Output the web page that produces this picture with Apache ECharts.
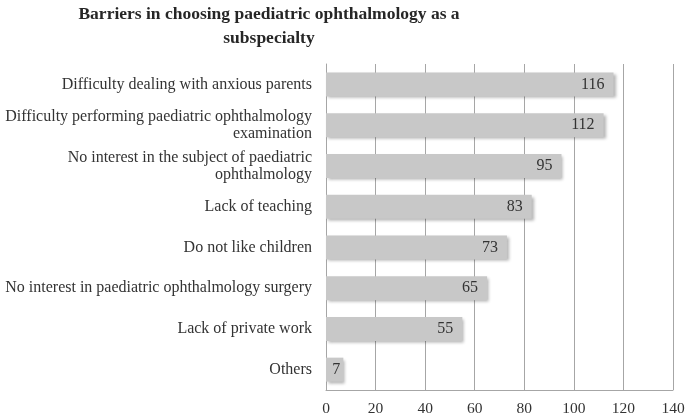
<!DOCTYPE html>
<html><head><meta charset="utf-8">
<script src="https://cdn.jsdelivr.net/npm/echarts@6/dist/echarts.min.js"></script>
<style>html,body{margin:0;padding:0;background:#fff}#c{width:685px;height:414px}</style>
</head><body><div id="c"></div>
<script>
const categories = [
  "Difficulty dealing with anxious parents",
  "Difficulty performing paediatric ophthalmology\nexamination",
  "No interest in the subject of paediatric\nophthalmology",
  "Lack of teaching",
  "Do not like children",
  "No interest in paediatric ophthalmology surgery",
  "Lack of private work",
  "Others"
];
const values = [116, 112, 95, 83, 73, 65, 55, 7];
const titleText = "Barriers in choosing paediatric ophthalmology as a\nsubspecialty";

const font = "'Liberation Serif', 'DejaVu Serif', serif";
const chart = echarts.init(document.getElementById('c'));
chart.setOption({
  animation: false,
  title: {
    text: titleText, left: 264, top: -3, textAlign: 'center',
    textStyle: { fontFamily: font, fontSize: 17.5, fontWeight: 'bold', color: '#262626', lineHeight: 24 }
  },
  grid: { left: 326, right: 12, top: 64, bottom: 24, containLabel: false, outerBoundsMode: 'none' },
  xAxis: {
    type: 'value', min: 0, max: 140, interval: 20,
    axisLine: { show: true, lineStyle: { color: '#a6a6a6' } },
    axisTick: { show: false },
    axisLabel: { fontFamily: font, fontSize: 15.5, color: '#333', margin: 11 },
    splitLine: { show: true, lineStyle: { color: '#a6a6a6', width: 1 } }
  },
  yAxis: {
    type: 'category', data: categories.slice().reverse(),
    axisLine: { show: true, lineStyle: { color: '#a6a6a6' } },
    axisTick: { show: false },
    axisLabel: { fontFamily: font, fontSize: 16, color: '#333', margin: 14, lineHeight: 17, align: 'right' }
  },
  series: [{
    type: 'bar',
    data: values.slice().reverse().map(v => v < 10 ? { value: v, label: { distance: 3 } } : v),
    barWidth: 24,
    itemStyle: { color: '#c8c8c8', shadowColor: 'rgba(0,0,0,0.3)', shadowBlur: 3, shadowOffsetX: 2, shadowOffsetY: 2 },
    label: { show: true, position: 'insideRight', distance: 9, fontFamily: font, fontSize: 16, color: '#333' }
  }]
});
</script></body></html>
